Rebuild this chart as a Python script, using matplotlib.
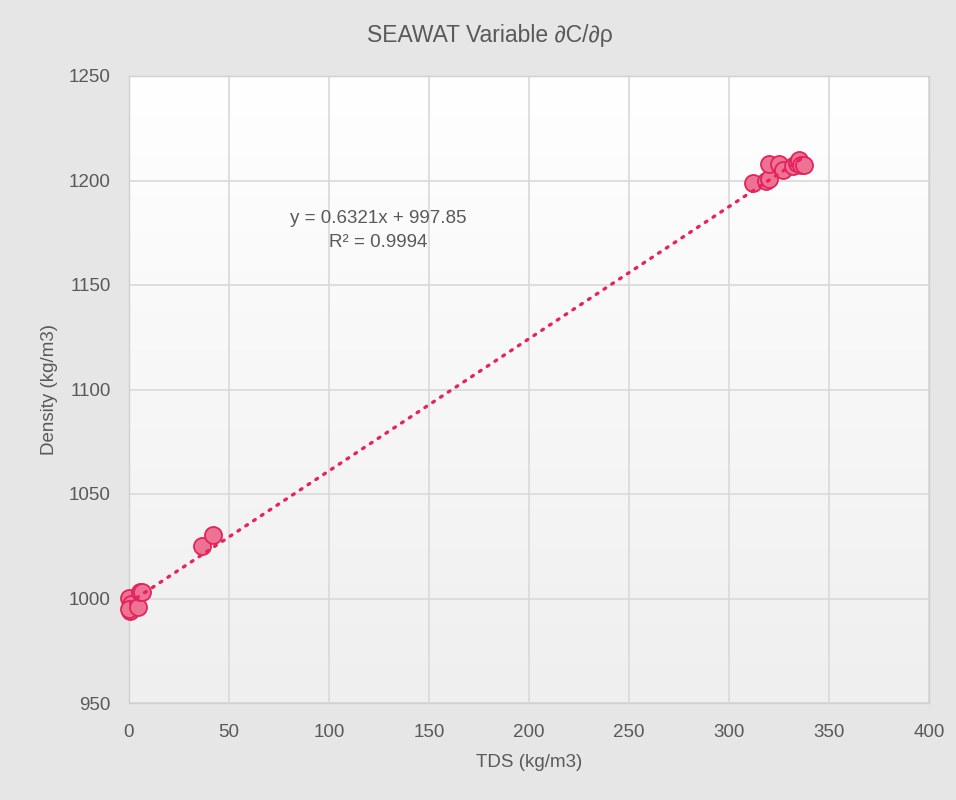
import numpy as np
import matplotlib.pyplot as plt

# data
tds = [0.0, 1.0, 0.5, 0.2, 4.5, 5.5, 6.5, 36.5, 42.0,
       312.0, 318.5, 320.0, 320.0, 325.0, 327.0, 332.0, 334.0, 335.0, 336.0, 337.5]
density = [1000.2, 997.4, 994.0, 995.0, 995.8, 1003.0, 1003.0, 1025.0, 1030.4,
           1198.8, 1199.8, 1200.7, 1207.9, 1207.9, 1205.0, 1206.9, 1208.4, 1209.8, 1207.4, 1207.4]
slope, intercept = 0.6321, 997.85
r2 = 0.9994

title = "SEAWAT Variable \u2202C/\u2202\u03c1"
xlabel = "TDS (kg/m3)"
ylabel = "Density (kg/m3)"

plt.rcParams['font.family'] = ['Liberation Sans', 'DejaVu Sans']
txt = '#595959'

fig = plt.figure(figsize=(9.56, 8), dpi=100)
fig.patch.set_facecolor('#e6e6e6')
ax = fig.add_axes([0.1349, 0.12125, 0.8368, 0.78375])
ax.set_xlim(0, 400)
ax.set_ylim(950, 1250)

# gradient background of plot area
grad = np.linspace(0, 1, 256).reshape(-1, 1)
ax.imshow(grad, extent=[0, 400, 950, 1250], aspect='auto', origin='upper',
          cmap=plt.matplotlib.colors.LinearSegmentedColormap.from_list('g', ['#ffffff', '#efefef']),
          zorder=0)

ax.set_xticks(np.arange(0, 401, 50))
ax.set_yticks(np.arange(950, 1251, 50))
ax.grid(True, color='#d9d9d9', linewidth=1.2, zorder=1)
ax.tick_params(length=0, labelsize=13.5, labelcolor=txt)
ax.tick_params(axis='x', pad=15)
ax.tick_params(axis='y', pad=13)
for s in ax.spines.values():
    s.set_color('#d0d0d0')
    s.set_linewidth(1)

ax.scatter(tds, density, s=150, facecolor='#ee7294', edgecolor='#e3235a',
           linewidth=1.3, zorder=3, clip_on=False)

xs = np.array([min(tds), max(tds)])
ax.plot(xs, slope * xs + intercept, color='#e8235a', linewidth=2.4,
        linestyle=(0, (0.6, 2.2)), dash_capstyle='round', zorder=4)

ax.text(0.311, 0.7536, "y = %.4fx + %.2f\nR\u00b2 = %.4f" % (slope, intercept, r2),
        transform=ax.transAxes, ha='center', va='center', fontsize=13.5,
        color=txt, linespacing=1.6, zorder=5)

fig.text(0.512, 0.956, title, ha='center', va='center', fontsize=16.5, color=txt)
fig.text(0.553, 0.047, xlabel, ha='center', va='center', fontsize=13.5, color=txt)
fig.text(0.052, 0.513, ylabel, ha='center', va='center', fontsize=13.5, color=txt,
         rotation=90)

fig.savefig('out.png', dpi=100, facecolor=fig.get_facecolor())
